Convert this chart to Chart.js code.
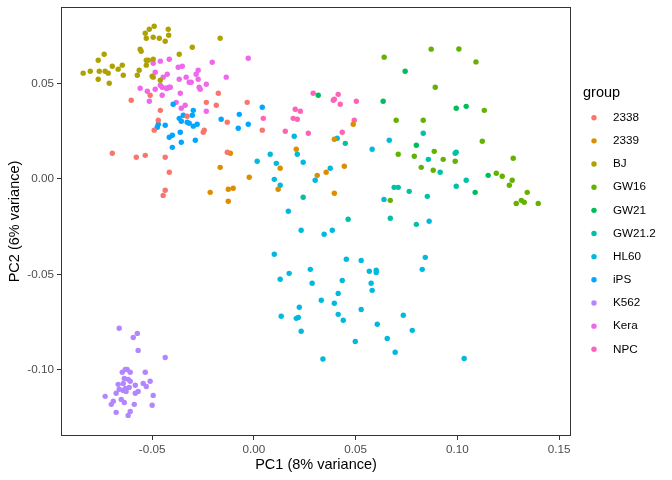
<!DOCTYPE html>
<html>
<head>
<meta charset="utf-8">
<script src="https://cdn.jsdelivr.net/npm/chart.js@4.4.1/dist/chart.umd.min.js"></script>
<style>
  html, body { margin: 0; padding: 0; background: #ffffff; }
  #wrap { width: 672px; height: 480px; }
</style>
</head>
<body>
<div id="wrap"><canvas id="pca"></canvas></div>
<script>
// PCA scores, [PC1, PC2] per sample
const groups = ['2338', '2339', 'BJ', 'GW16', 'GW21', 'GW21.2', 'HL60', 'iPS', 'K562', 'Kera', 'NPC'];

const pts2338 = [
    [-0.0510, 0.0439], [-0.0603, 0.0413], [-0.0460, 0.0360], [-0.0175, 0.0450], [-0.0234, 0.0402],
    [-0.0185, 0.0387], [-0.0033, 0.0402], [-0.0328, 0.0329], [-0.0131, 0.0298], [-0.0244, 0.0256],
    [-0.0249, 0.0245], [-0.0470, 0.0308], [-0.0490, 0.0256], [-0.0696, 0.0135], [-0.0578, 0.0114],
    [-0.0534, 0.0124], [-0.0436, 0.0114], [-0.0131, 0.0140], [-0.0416, 0.0035], [-0.0436, -0.0059],
    [-0.0446, -0.0086], [0.0041, 0.0256]
];
const pts2339 = [
    [-0.0116, 0.0135], [-0.0166, 0.0061], [-0.0023, 0.0009], [-0.0126, -0.0054], [-0.0102, -0.0049],
    [-0.0215, -0.0070], [-0.0126, -0.0117], [0.0488, 0.0287], [0.0395, 0.0208], [0.0208, 0.0156],
    [0.0129, 0.0056], [0.0444, 0.0067], [0.0355, 0.0035], [0.0311, 0.0019], [0.0119, -0.0054],
    [0.0395, -0.0075]
];
const ptsBJ = [
    [-0.0490, 0.0801], [-0.0514, 0.0785], [-0.0421, 0.0785], [-0.0534, 0.0764], [-0.0529, 0.0738],
    [-0.0495, 0.0743], [-0.0465, 0.0738], [-0.0436, 0.0722], [-0.0419, 0.0754], [-0.0559, 0.0681],
    [-0.0554, 0.0670], [-0.0736, 0.0654], [-0.0765, 0.0623], [-0.0529, 0.0623], [-0.0519, 0.0623],
    [-0.0495, 0.0628], [-0.0529, 0.0597], [-0.0647, 0.0597], [-0.0696, 0.0591], [-0.0667, 0.0576],
    [-0.0564, 0.0570], [-0.0839, 0.0555], [-0.0804, 0.0565], [-0.0760, 0.0565], [-0.0731, 0.0565],
    [-0.0716, 0.0555], [-0.0642, 0.0544], [-0.0573, 0.0544], [-0.0500, 0.0539], [-0.0495, 0.0534],
    [-0.0765, 0.0523], [-0.0711, 0.0502], [-0.0166, 0.0738], [-0.0303, 0.0691], [-0.0367, 0.0654],
    [-0.0460, 0.0518]
];
const ptsGW16 = [
    [0.0871, 0.0681], [0.0640, 0.0639], [0.0891, 0.0481], [0.0699, 0.0308], [0.0832, 0.0308],
    [0.0709, 0.0130], [0.0788, 0.0119], [0.0886, 0.0145], [0.0930, 0.0103], [0.0989, 0.0093],
    [0.0822, 0.0061], [0.0881, 0.0046], [0.0670, -0.0112], [0.1132, 0.0360], [0.1122, 0.0198],
    [0.1274, 0.0109], [0.1191, 0.0030], [0.1220, 0.0014], [0.1269, -0.0007], [0.1255, -0.0033],
    [0.1343, -0.0070], [0.1314, -0.0112], [0.1328, -0.0122], [0.1289, -0.0128], [0.1397, -0.0128],
    [0.1007, 0.0682], [0.1091, 0.0614]
];
const ptsGW21 = [
    [0.0743, 0.0565], [0.0635, 0.0408], [0.0994, 0.0371], [0.1043, 0.0381], [0.0798, 0.0177],
    [0.1151, 0.0019], [0.1087, -0.0070], [0.0316, 0.0439]
];
const ptsGW212 = [
    [0.0449, 0.0187], [0.0242, -0.0096], [0.0463, -0.0211], [0.0832, 0.0240], [0.0857, 0.0103],
    [0.0915, 0.0035], [0.0989, 0.0135], [0.0994, 0.0140], [0.0994, -0.0038], [0.0689, -0.0044],
    [0.0709, -0.0044], [0.0763, -0.0065], [0.0852, -0.0091], [0.1043, -0.0007], [0.0670, -0.0206],
    [0.0798, -0.0238]
];
const ptsHL60 = [
    [0.0198, 0.0224], [0.0409, 0.0214], [0.0213, 0.0130], [0.0080, 0.0130], [0.0016, 0.0093],
    [0.0110, 0.0082], [0.0242, 0.0088], [0.0375, 0.0056], [0.0100, -0.0002], [0.0301, -0.0007],
    [0.0129, -0.0033], [0.0169, -0.0169], [0.0232, -0.0269], [0.0345, -0.0290], [0.0385, -0.0269],
    [0.0100, -0.0395], [0.0454, -0.0421], [0.0527, -0.0427], [0.0277, -0.0474], [0.0173, -0.0495],
    [0.0129, -0.0526], [0.0286, -0.0547], [0.0434, -0.0532], [0.0567, -0.0484], [0.0414, -0.0600],
    [0.0331, -0.0636], [0.0395, -0.0652], [0.0223, -0.0673], [0.0134, -0.0720], [0.0208, -0.0731],
    [0.0218, -0.0726], [0.0414, -0.0710], [0.0439, -0.0741], [0.0527, -0.0684], [0.0232, -0.0799],
    [0.0498, -0.0852], [0.0639, -0.0107], [0.0861, -0.0222], [0.0601, -0.0479], [0.0601, -0.0490],
    [0.0842, -0.0411], [0.0827, -0.0474], [0.0576, -0.0547], [0.0581, -0.0584], [0.0734, -0.0715],
    [0.0606, -0.0762], [0.0778, -0.0794], [0.0655, -0.0836], [0.0694, -0.0909], [0.1033, -0.0941],
    [0.0339, -0.0944], [0.0665, 0.0203], [0.0581, 0.0156]
];
const ptsIPS = [
    [-0.0397, 0.0392], [-0.0298, 0.0360], [-0.0303, 0.0334], [-0.0367, 0.0318], [-0.0357, 0.0303],
    [-0.0347, 0.0334], [-0.0328, 0.0298], [-0.0318, 0.0292], [-0.0298, 0.0277], [-0.0279, 0.0287],
    [-0.0436, 0.0282], [-0.0161, 0.0313], [-0.0072, 0.0339], [-0.0028, 0.0287], [-0.0077, 0.0266],
    [-0.0470, 0.0287], [-0.0475, 0.0271], [-0.0362, 0.0245], [-0.0401, 0.0229], [-0.0416, 0.0219],
    [-0.0357, 0.0193], [-0.0288, 0.0203], [-0.0401, 0.0166], [0.0041, 0.0376]
];
const ptsK562 = [
    [-0.0662, -0.0783], [-0.0573, -0.0810], [-0.0593, -0.0831], [-0.0569, -0.0899], [-0.0436, -0.0936],
    [-0.0534, -0.1014], [-0.0632, -0.0999], [-0.0623, -0.0999], [-0.0647, -0.1014], [-0.0608, -0.1014],
    [-0.0637, -0.1046], [-0.0618, -0.1051], [-0.0608, -0.1061], [-0.0510, -0.1061], [-0.0667, -0.1077],
    [-0.0642, -0.1072], [-0.0544, -0.1072], [-0.0529, -0.1088], [-0.0583, -0.1082], [-0.0613, -0.1093],
    [-0.0632, -0.1098], [-0.0642, -0.1109], [-0.0662, -0.1103], [-0.0628, -0.1114], [-0.0569, -0.1114],
    [-0.0583, -0.1124], [-0.0677, -0.1124], [-0.0495, -0.1135], [-0.0731, -0.1140], [-0.0652, -0.1156],
    [-0.0637, -0.1172], [-0.0691, -0.1166], [-0.0701, -0.1182], [-0.0588, -0.1182], [-0.0500, -0.1187],
    [-0.0677, -0.1224], [-0.0608, -0.1219], [-0.0618, -0.1240]
];
const ptsKera = [
    [-0.0495, 0.0607], [-0.0460, 0.0618], [-0.0416, 0.0628], [-0.0485, 0.0560], [-0.0446, 0.0534],
    [-0.0426, 0.0549], [-0.0460, 0.0492], [-0.0451, 0.0481], [-0.0426, 0.0476], [-0.0416, 0.0481],
    [-0.0559, 0.0476], [-0.0524, 0.0460], [-0.0485, 0.0471], [-0.0451, 0.0439], [-0.0514, 0.0408],
    [-0.0205, 0.0612], [-0.0028, 0.0633], [-0.0372, 0.0586], [-0.0352, 0.0591], [-0.0333, 0.0534],
    [-0.0284, 0.0549], [-0.0274, 0.0570], [-0.0367, 0.0523], [-0.0318, 0.0507], [-0.0308, 0.0507],
    [-0.0274, 0.0523], [-0.0136, 0.0534], [-0.0234, 0.0497], [-0.0411, 0.0481], [-0.0431, 0.0476],
    [-0.0269, 0.0481], [-0.0264, 0.0471], [-0.0362, 0.0450], [-0.0382, 0.0402], [-0.0338, 0.0387],
    [-0.0357, 0.0371], [-0.0234, 0.0355]
];
const ptsNPC = [
    [0.0291, 0.0450], [0.0414, 0.0444], [0.0390, 0.0413], [0.0395, 0.0418], [0.0424, 0.0392],
    [0.0503, 0.0408], [0.0203, 0.0366], [0.0228, 0.0355], [0.0193, 0.0318], [0.0213, 0.0313],
    [0.0046, 0.0318], [0.0154, 0.0250], [0.0267, 0.0240], [0.0493, 0.0308], [0.0434, 0.0245]
];

const groupPoints = [pts2338, pts2339, ptsBJ, ptsGW16, ptsGW21, ptsGW212, ptsHL60, ptsIPS, ptsK562, ptsKera, ptsNPC];
const colors = ['#F8766D', '#DB8E00', '#AEA200', '#64B200', '#00BD5C', '#00C1A7',
                '#00BADE', '#00A6FF', '#B385FF', '#EF67EB', '#FF63B6'];

const xTicks = [-0.05, 0.00, 0.05, 0.10, 0.15];
const yTicks = [-0.10, -0.05, 0.00, 0.05];

const FONT = '"Liberation Sans", Arial, sans-serif';

// panel box plus the ggplot style legend on the right
const panelAndLegend = {
    id: 'panelAndLegend',
    afterDraw(chart) {
        const ctx = chart.ctx;
        const { left, top, right, bottom } = chart.chartArea;
        ctx.save();
        ctx.strokeStyle = '#333333';
        ctx.lineWidth = 1;
        ctx.strokeRect(Math.round(left) + 0.5, Math.round(top) + 0.5,
                       Math.round(right - left) - 1, Math.round(bottom - top) - 1);

        ctx.textBaseline = 'middle';
        ctx.textAlign = 'left';
        ctx.fillStyle = '#000000';
        ctx.font = '14.5px ' + FONT;
        ctx.fillText('group', 583, 93);

        ctx.font = '11.7px ' + FONT;
        chart.data.datasets.forEach((ds, i) => {
            const y = 117.7 + i * 23.16;
            ctx.beginPath();
            ctx.fillStyle = ds.backgroundColor;
            ctx.arc(594, y, 2.7, 0, Math.PI * 2);
            ctx.fill();
            ctx.fillStyle = '#000000';
            ctx.fillText(ds.label, 613, y);
        });
        ctx.restore();
    }
};

const datasets = groups.map((g, i) => ({
    label: g,
    data: groupPoints[i].map(p => ({ x: p[0], y: p[1] })),
    backgroundColor: colors[i],
    borderWidth: 0,
    pointRadius: 2.7,
    pointHoverRadius: 2.7
}));

window.addEventListener('DOMContentLoaded', () => {
    const ctx = document.getElementById('pca').getContext('2d');
    new Chart(ctx, {
        type: 'scatter',
        data: { datasets: datasets },
        options: {
            responsive: true,
            maintainAspectRatio: false,
            animation: false,
            layout: { padding: { top: 7, right: 101, left: 0, bottom: 0 } },
            plugins: {
                legend: { display: false },
                tooltip: { enabled: false }
            },
            scales: {
                x: {
                    type: 'linear',
                    min: -0.0948,
                    max: 0.1558,
                    afterFit(scale) {
                        scale.height = 44;
                        scale.paddingLeft = 0;
                        scale.paddingRight = 0;
                    },
                    afterBuildTicks(scale) { scale.ticks = xTicks.map(v => ({ value: v })); },
                    border: { display: false },
                    grid: { drawOnChartArea: false, tickLength: 4, color: '#333333', tickWidth: 1 },
                    ticks: {
                        padding: 3,
                        color: '#4D4D4D',
                        font: { family: FONT, size: 11.7 },
                        maxRotation: 0,
                        callback: v => v.toFixed(2)
                    },
                    title: {
                        display: true,
                        text: 'PC1 (8% variance)',
                        color: '#000000',
                        font: { family: FONT, size: 14.5 },
                        padding: { top: 0, bottom: 6 }
                    }
                },
                y: {
                    type: 'linear',
                    min: -0.1348,
                    max: 0.0902,
                    afterFit(scale) {
                        scale.width = 61;
                        scale.paddingTop = 0;
                        scale.paddingBottom = 0;
                    },
                    afterBuildTicks(scale) { scale.ticks = yTicks.map(v => ({ value: v })); },
                    border: { display: false },
                    grid: { drawOnChartArea: false, tickLength: 4, color: '#333333', tickWidth: 1 },
                    ticks: {
                        padding: 3,
                        color: '#4D4D4D',
                        font: { family: FONT, size: 11.7 },
                        callback: v => v.toFixed(2)
                    },
                    title: {
                        display: true,
                        text: 'PC2 (6% variance)',
                        color: '#000000',
                        font: { family: FONT, size: 14.5 },
                        padding: { top: 6, bottom: 0 }
                    }
                }
            }
        },
        plugins: [panelAndLegend]
    });
});
</script>
</body>
</html>
